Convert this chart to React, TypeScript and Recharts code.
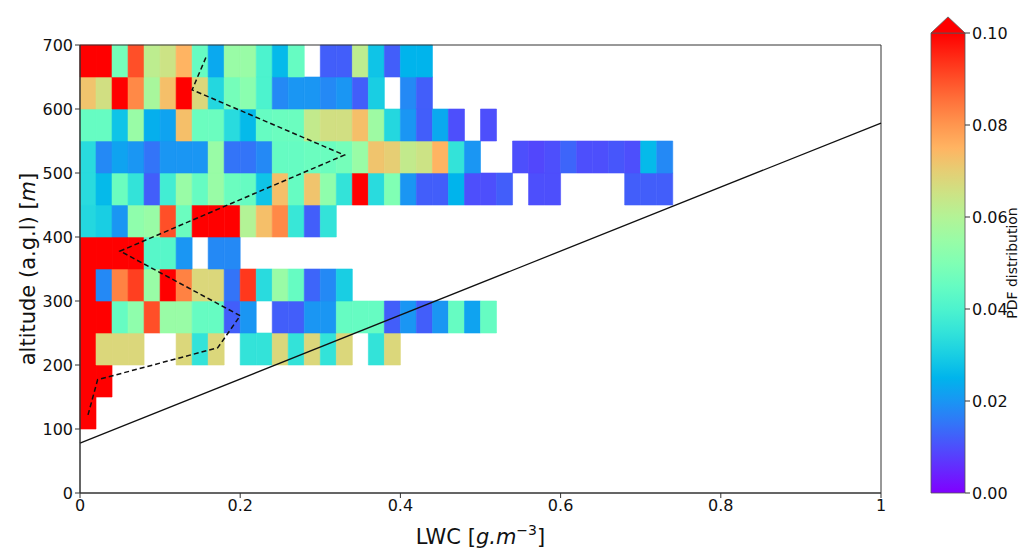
import React from "react";
import { ComposedChart, XAxis, YAxis, ReferenceArea, ReferenceLine, Scatter, Label } from "recharts";

const FONT = "DejaVu Sans, Verdana, sans-serif";
const LWC_STEP = 0.02;
const ALT_STEP = 50;

// PDF per altitude bin (bottom of bin, m); one value per LWC bin of 0.02 g/m3, null = no data
const pdf100 = [0.11];
const pdf150 = [0.11, 0.11];
const pdf200 = [0.11, 0.068, 0.068, 0.068, null, null, 0.068, 0.035, 0.068, null, 0.035, 0.035, 0.068, 0.035, 0.068, 0.035, 0.068, null, 0.035, 0.068];
const pdf250 = [0.11, 0.11, 0.045, 0.053, 0.09, 0.055, 0.055, 0.045, 0.045, 0.012, 0.02, null, 0.012, 0.012, 0.02, 0.02, 0.045, 0.045, 0.045, 0.012, 0.02, 0.012, 0.02, 0.045, 0.022, 0.045];
const pdf300 = [0.11, 0.018, 0.083, 0.092, 0.055, 0.11, 0.083, 0.068, 0.068, 0.015, 0.093, 0.033, 0.055, 0.045, 0.013, 0.018, 0.03];
const pdf350 = [0.11, 0.11, 0.11, 0.11, 0.042, 0.042, 0.02, null, 0.018, 0.018];
const pdf400 = [0.032, 0.03, 0.02, 0.053, 0.055, 0.09, 0.046, 0.11, 0.11, 0.11, 0.06, 0.073, 0.082, 0.036, 0.012, 0.035];
const pdf450 = [0.033, 0.026, 0.046, 0.035, 0.012, 0.038, 0.055, 0.045, 0.055, 0.046, 0.045, 0.028, 0.073, 0.045, 0.072, 0.053, 0.035, 0.11, 0.033, 0.05, 0.02, 0.012, 0.012, 0.025, 0.01, 0.01, 0.012, null, 0.01, 0.01, null, null, null, null, 0.012, 0.012, 0.012];
const pdf500 = [0.033, 0.018, 0.022, 0.02, 0.015, 0.02, 0.02, 0.02, 0.055, 0.015, 0.015, 0.018, 0.045, 0.045, 0.046, 0.046, 0.048, 0.055, 0.072, 0.07, 0.063, 0.065, 0.075, 0.035, 0.02, null, null, 0.01, 0.009, 0.01, 0.013, 0.01, 0.01, 0.011, 0.01, 0.026, 0.018];
const pdf550 = [0.045, 0.045, 0.028, 0.055, 0.024, 0.022, 0.073, 0.046, 0.046, 0.033, 0.026, 0.045, 0.046, 0.046, 0.063, 0.066, 0.066, 0.073, 0.056, 0.032, 0.02, 0.012, 0.023, 0.01, null, 0.01];
const pdf600 = [0.072, 0.066, 0.11, 0.082, 0.058, 0.073, 0.11, 0.068, 0.032, 0.048, 0.052, 0.04, 0.018, 0.02, 0.02, 0.018, 0.02, 0.012, 0.03, null, 0.018, 0.012];
const pdf650 = [0.11, 0.11, 0.048, 0.09, 0.062, 0.065, 0.075, 0.045, 0.023, 0.055, 0.055, 0.04, 0.026, 0.045, null, 0.012, 0.012, 0.062, 0.028, 0.012, 0.025, 0.025];

const altBases = [100, 150, 200, 250, 300, 350, 400, 450, 500, 550, 600, 650];
const pdfRows = [pdf100, pdf150, pdf200, pdf250, pdf300, pdf350, pdf400, pdf450, pdf500, pdf550, pdf600, pdf650];

// mean LWC profile (dashed)
const meanLwc = [0.01, 0.022, 0.172, 0.2, 0.05, 0.33, 0.14, 0.158];
const meanAlt = [122, 177, 227, 277, 378, 528, 630, 683];

// straight reference line
const fitLwc = [0, 1];
const fitAlt = [78, 578];

const xTicks = [0, 0.2, 0.4, 0.6, 0.8, 1];
const yTicks = [0, 100, 200, 300, 400, 500, 600, 700];
const cbarTicks = [0, 0.02, 0.04, 0.06, 0.08, 0.1];
const PDF_MAX = 0.1;

// matplotlib "rainbow" colormap
function rainbow(t: number) {
  const c = Math.max(0, Math.min(1, t));
  const r = Math.min(1, Math.abs(2 * c - 0.5));
  const g = Math.sin(Math.PI * c);
  const b = Math.cos((Math.PI * c) / 2);
  return `rgb(${Math.round(r * 255)},${Math.round(g * 255)},${Math.round(b * 255)})`;
}

const cells = pdfRows.flatMap((row, i) =>
  row
    .map((v, j) =>
      v == null
        ? null
        : { x1: j * LWC_STEP, x2: (j + 1) * LWC_STEP, y1: altBases[i], y2: altBases[i] + ALT_STEP, color: rainbow(v / PDF_MAX) }
    )
    .filter((c): c is { x1: number; x2: number; y1: number; y2: number; color: string } => c !== null)
);

const meanData = meanLwc.map((x, i) => ({ lwc: x, alt: meanAlt[i] }));

const tickStyle = { fill: "#111", fontSize: 16, fontFamily: FONT };

const YTitle = ({ viewBox }: any) => {
  const cx = 28;
  const cy = viewBox.y + viewBox.height / 2;
  return (
    <text x={cx} y={cy} transform={`rotate(-90, ${cx}, ${cy})`} textAnchor="middle" dominantBaseline="central" fontSize={21} fontFamily={FONT} fill="#111">
      <tspan>altitude (a.g.l) [</tspan>
      <tspan fontStyle="italic">m</tspan>
      <tspan>]</tspan>
    </text>
  );
};

const XTitle = ({ viewBox }: any) => {
  const cx = viewBox.x + viewBox.width / 2;
  return (
    <text x={cx} y={544} textAnchor="middle" fontSize={21} fontFamily={FONT} fill="#111">
      <tspan>LWC [</tspan>
      <tspan fontStyle="italic">g.m</tspan>
      <tspan dy={-9} fontSize={14}>−3</tspan>
      <tspan dy={9}>]</tspan>
    </text>
  );
};

const CbarTitle = ({ viewBox }: any) => {
  const cx = 97;
  const cy = viewBox.y + viewBox.height / 2;
  return (
    <text x={cx} y={cy} transform={`rotate(-90, ${cx}, ${cy})`} textAnchor="middle" dominantBaseline="central" fontSize={14} fontFamily={FONT} fill="#111">
      PDF distribution
    </text>
  );
};

function Heatmap() {
  return (
    <ComposedChart width={1021} height={552} margin={{ top: 45, right: 140, bottom: 9, left: 30 }}>
      <XAxis
        type="number"
        dataKey="lwc"
        domain={[0, 1]}
        ticks={xTicks}
        tickFormatter={(v) => String(v)}
        tick={tickStyle}
        tickSize={5}
        tickLine={{ stroke: "#333" }}
        axisLine={{ stroke: "#333" }}
        height={50}
        allowDataOverflow
      >
        <Label content={<XTitle />} />
      </XAxis>
      <YAxis
        type="number"
        dataKey="alt"
        domain={[0, 700]}
        ticks={yTicks}
        tick={tickStyle}
        tickSize={5}
        tickLine={{ stroke: "#333" }}
        axisLine={{ stroke: "#333" }}
        width={50}
        allowDataOverflow
      >
        <Label content={<YTitle />} />
      </YAxis>
      {cells.map((c, i) => (
        <ReferenceArea
          key={i}
          x1={c.x1}
          x2={c.x2}
          y1={c.y1}
          y2={c.y2}
          fill={c.color}
          fillOpacity={1}
          stroke={c.color}
          strokeWidth={0.6}
        />
      ))}
      <ReferenceLine
        segment={[
          { x: fitLwc[0], y: fitAlt[0] },
          { x: fitLwc[1], y: fitAlt[1] },
        ]}
        stroke="#111"
        strokeWidth={1.3}
      />
      <Scatter
        data={meanData}
        isAnimationActive={false}
        line={{ stroke: "#111", strokeWidth: 1.5, strokeDasharray: "5 3" }}
        shape={() => <g />}
      />
      <ReferenceArea x1={0} x2={1} y1={0} y2={700} fill="none" stroke="#333" strokeWidth={1} />
    </ComposedChart>
  );
}

function Colorbar() {
  return (
    <ComposedChart width={106} height={552} margin={{ top: 33, right: 0, bottom: 59, left: 16 }}>
      <defs>
        <linearGradient id="cbarGrad" x1="0" y1="1" x2="0" y2="0">
          {Array.from({ length: 21 }, (_, k) => (
            <stop key={k} offset={`${k * 5}%`} stopColor={rainbow(k / 20)} />
          ))}
        </linearGradient>
      </defs>
      <XAxis type="number" dataKey="x" domain={[0, 1]} hide allowDataOverflow />
      <YAxis
        type="number"
        dataKey="y"
        orientation="right"
        domain={[0, PDF_MAX]}
        ticks={cbarTicks}
        tickFormatter={(v) => Number(v).toFixed(2)}
        tick={tickStyle}
        tickSize={5}
        tickLine={{ stroke: "#333" }}
        axisLine={false}
        width={56}
        allowDataOverflow
      >
        <Label content={<CbarTitle />} />
      </YAxis>
      <ReferenceArea x1={0} x2={1} y1={0} y2={PDF_MAX} fill="url(#cbarGrad)" fillOpacity={1} stroke="#555" strokeWidth={0.8} />
      <ReferenceArea
        x1={0}
        x2={1}
        y1={PDF_MAX}
        y2={PDF_MAX * 1.035}
        ifOverflow="visible"
        shape={(p: any) => (
          <polygon
            points={`${p.x},${p.y + p.height} ${p.x + p.width},${p.y + p.height} ${p.x + p.width / 2},${p.y}`}
            fill={rainbow(1)}
            stroke="#555"
            strokeWidth={0.8}
          />
        )}
      />
    </ComposedChart>
  );
}

export default function App() {
  return (
    <div style={{ position: "absolute", left: 0, top: 0, width: 1021, height: 552, background: "#fff", fontFamily: FONT }}>
      <div style={{ position: "absolute", left: 0, top: 0 }}>
        <Heatmap />
      </div>
      <div style={{ position: "absolute", left: 915, top: 0 }}>
        <Colorbar />
      </div>
    </div>
  );
}
